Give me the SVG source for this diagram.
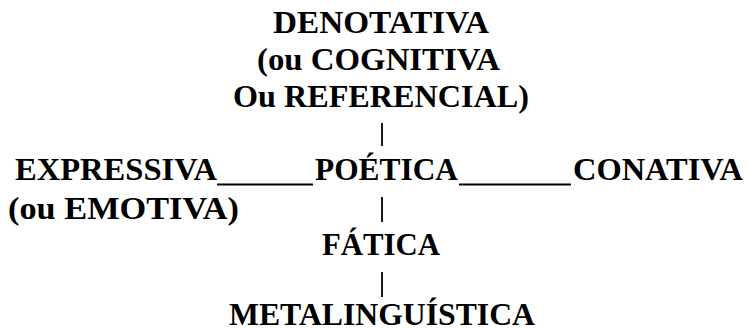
<svg xmlns="http://www.w3.org/2000/svg" width="748" height="329" viewBox="0 0 748 329">
  <style>
    .t { font-family: "Liberation Serif", "Times New Roman", serif; font-weight: bold; font-size: 32px; fill: #000; }
    .c { stroke: #000; stroke-width: 1.8; fill: none; }
    .u { stroke: #000; stroke-width: 2; fill: none; }
  </style>
  <rect width="748" height="329" fill="#fff"/>
  <g id="denotativa">
    <text class="t" x="273" y="33" textLength="216" lengthAdjust="spacingAndGlyphs">DENOTATIVA</text>
    <text class="t" x="257" y="70" textLength="243" lengthAdjust="spacingAndGlyphs">(ou COGNITIVA</text>
    <text class="t" x="233" y="107" textLength="296" lengthAdjust="spacingAndGlyphs">Ou REFERENCIAL)</text>
  </g>
  <g id="expressiva">
    <text class="t" x="15" y="180" textLength="202" lengthAdjust="spacingAndGlyphs">EXPRESSIVA</text>
    <text class="t" x="8" y="219" textLength="231" lengthAdjust="spacingAndGlyphs">(ou EMOTIVA)</text>
  </g>
  <g id="poetica">
    <text class="t" x="315" y="180" textLength="143" lengthAdjust="spacingAndGlyphs">POÉTICA</text>
  </g>
  <g id="conativa">
    <text class="t" x="573" y="180" textLength="170" lengthAdjust="spacingAndGlyphs">CONATIVA</text>
  </g>
  <g id="fatica">
    <text class="t" x="322" y="255" textLength="118" lengthAdjust="spacingAndGlyphs">FÁTICA</text>
  </g>
  <g id="metalinguistica">
    <text class="t" x="229" y="325" textLength="306" lengthAdjust="spacingAndGlyphs">METALINGUÍSTICA</text>
  </g>
  <g id="connectors">
    <line class="c" x1="382" y1="123" x2="382" y2="146"/>
    <line class="u" x1="217" y1="184.5" x2="313" y2="184.5"/>
    <line class="u" x1="459" y1="184.5" x2="571" y2="184.5"/>
    <line class="c" x1="382" y1="197" x2="382" y2="222"/>
    <line class="c" x1="382" y1="272" x2="382" y2="297"/>
  </g>
</svg>
